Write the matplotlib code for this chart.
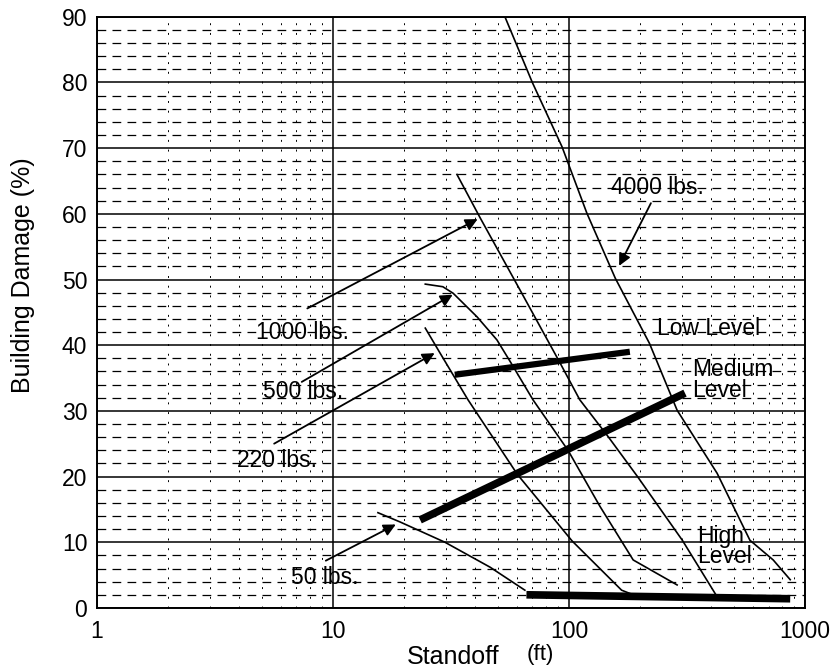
import matplotlib.pyplot as plt
import numpy as np
from matplotlib.ticker import FixedLocator, NullFormatter

plt.rcParams['font.family'] = ['Liberation Sans', 'DejaVu Sans']

# curves (standoff ft, damage %)
x_50 = [15.5, 19.2, 29.8, 46.3, 65.0]
y_50 = [14.5, 13.1, 10.0, 6.2, 2.7]

x_220 = [24.6, 28.2, 37.3, 60.5, 103.0, 167.0, 187.0]
y_220 = [42.6, 39.0, 31.7, 20.3, 10.2, 2.7, 2.0]

x_500 = [24.6, 29.2, 32.3, 40.8, 49.5, 57.0, 70.3, 99.0, 135.0, 187.0, 287.0]
y_500 = [49.3, 48.9, 47.9, 44.3, 40.8, 37.2, 31.7, 24.0, 15.5, 7.3, 3.5]

x_1000 = [33.5, 42.0, 62.0, 91.6, 111.0, 147.0, 195.0, 302.0, 424.0]
y_1000 = [66.0, 59.4, 48.4, 37.3, 31.7, 26.0, 20.0, 10.3, 1.7]

x_4000 = [53.5, 69.9, 93.4, 119.0, 157.0, 219.0, 287.0, 424.0, 584.0, 733.0, 865.0]
y_4000 = [90.0, 80.0, 70.2, 60.1, 50.2, 40.3, 30.1, 20.5, 10.3, 7.3, 4.3]

# damage level lines
low_x, low_y = [32.8, 181.0], [35.5, 39.0]
med_x, med_y = [23.4, 310.0], [13.4, 32.7]
high_x, high_y = [66.0, 865.0], [2.0, 1.4]

fig = plt.figure(figsize=(8.36, 6.71), dpi=100)
ax = fig.add_axes([0.116, 0.094, 0.847, 0.881])
ax.set_xscale('log')
ax.set_xlim(1, 1000)
ax.set_ylim(0, 90)

# grid: solid majors, dashed minors
ax.xaxis.set_major_locator(FixedLocator([1, 10, 100, 1000]))
ax.xaxis.set_minor_locator(FixedLocator([m * d for d in [1, 10, 100] for m in range(2, 10)]))
ax.xaxis.set_minor_formatter(NullFormatter())
ax.set_xticklabels(['1', '10', '100', '1000'])
ax.set_yticks(np.arange(0, 91, 10))
ax.set_yticks(np.arange(0, 91, 2), minor=True)
ax.grid(which='major', color='black', linewidth=1.1, linestyle='-')
ax.grid(which='minor', axis='y', color='black', linewidth=0.9, linestyle=(0, (7, 5)))
ax.grid(which='minor', axis='x', color='black', linewidth=0.7, linestyle=(0, (2, 8)))
ax.tick_params(which='both', length=0, labelsize=16.5)
ax.tick_params(axis='x', pad=9)
ax.tick_params(axis='y', pad=7)
for s in ax.spines.values():
    s.set_linewidth(1.4)

for xs, ys in [(x_50, y_50), (x_220, y_220), (x_500, y_500), (x_1000, y_1000), (x_4000, y_4000)]:
    ax.plot(xs, ys, color='black', linewidth=1.2)

ax.plot(low_x, low_y, color='black', linewidth=4.5, solid_capstyle='butt')
ax.plot(med_x, med_y, color='black', linewidth=5.5, solid_capstyle='butt')
ax.plot(high_x, high_y, color='black', linewidth=5.5, solid_capstyle='butt')

arrow = dict(arrowstyle='-|>', color='black', linewidth=1.3, mutation_scale=18)
ax.annotate('', xy=(42.0, 59.4), xytext=(7.6, 45.4), arrowprops=arrow)
ax.annotate('', xy=(32.9, 47.9), xytext=(7.2, 34.2), arrowprops=arrow)
ax.annotate('', xy=(27.6, 39.0), xytext=(5.5, 24.8), arrowprops=arrow)
ax.annotate('', xy=(18.9, 12.9), xytext=(9.1, 7.0), arrowprops=arrow)
ax.annotate('', xy=(161, 51.7), xytext=(225, 62.0), arrowprops=arrow)

fs = 16.5
ax.text(7.46, 42.0, '1000 lbs.', fontsize=fs, ha='center', va='center')
ax.text(7.46, 32.9, '500 lbs.', fontsize=fs, ha='center', va='center')
ax.text(5.8, 22.5, '220 lbs.', fontsize=fs, ha='center', va='center')
ax.text(9.26, 4.7, '50 lbs.', fontsize=fs, ha='center', va='center')
ax.text(236, 64.0, '4000 lbs.', fontsize=fs, ha='center', va='center')
ax.text(236, 42.6, 'Low Level', fontsize=fs, ha='left', va='center')
ax.text(332, 34.7, 'Medium\nLevel', fontsize=fs, ha='left', va='center', linespacing=0.85)
ax.text(349, 9.3, 'High\nLevel', fontsize=fs, ha='left', va='center', linespacing=0.85)

fig.text(0.487, 0.021, 'Standoff', fontsize=18, ha='left', va='center')
fig.text(0.630, 0.024, '(ft)', fontsize=16, ha='left', va='center')
fig.text(0.028, 0.59, 'Building Damage (%)', fontsize=18, ha='center', va='center', rotation=90)

fig.savefig('out.png', dpi=100)
